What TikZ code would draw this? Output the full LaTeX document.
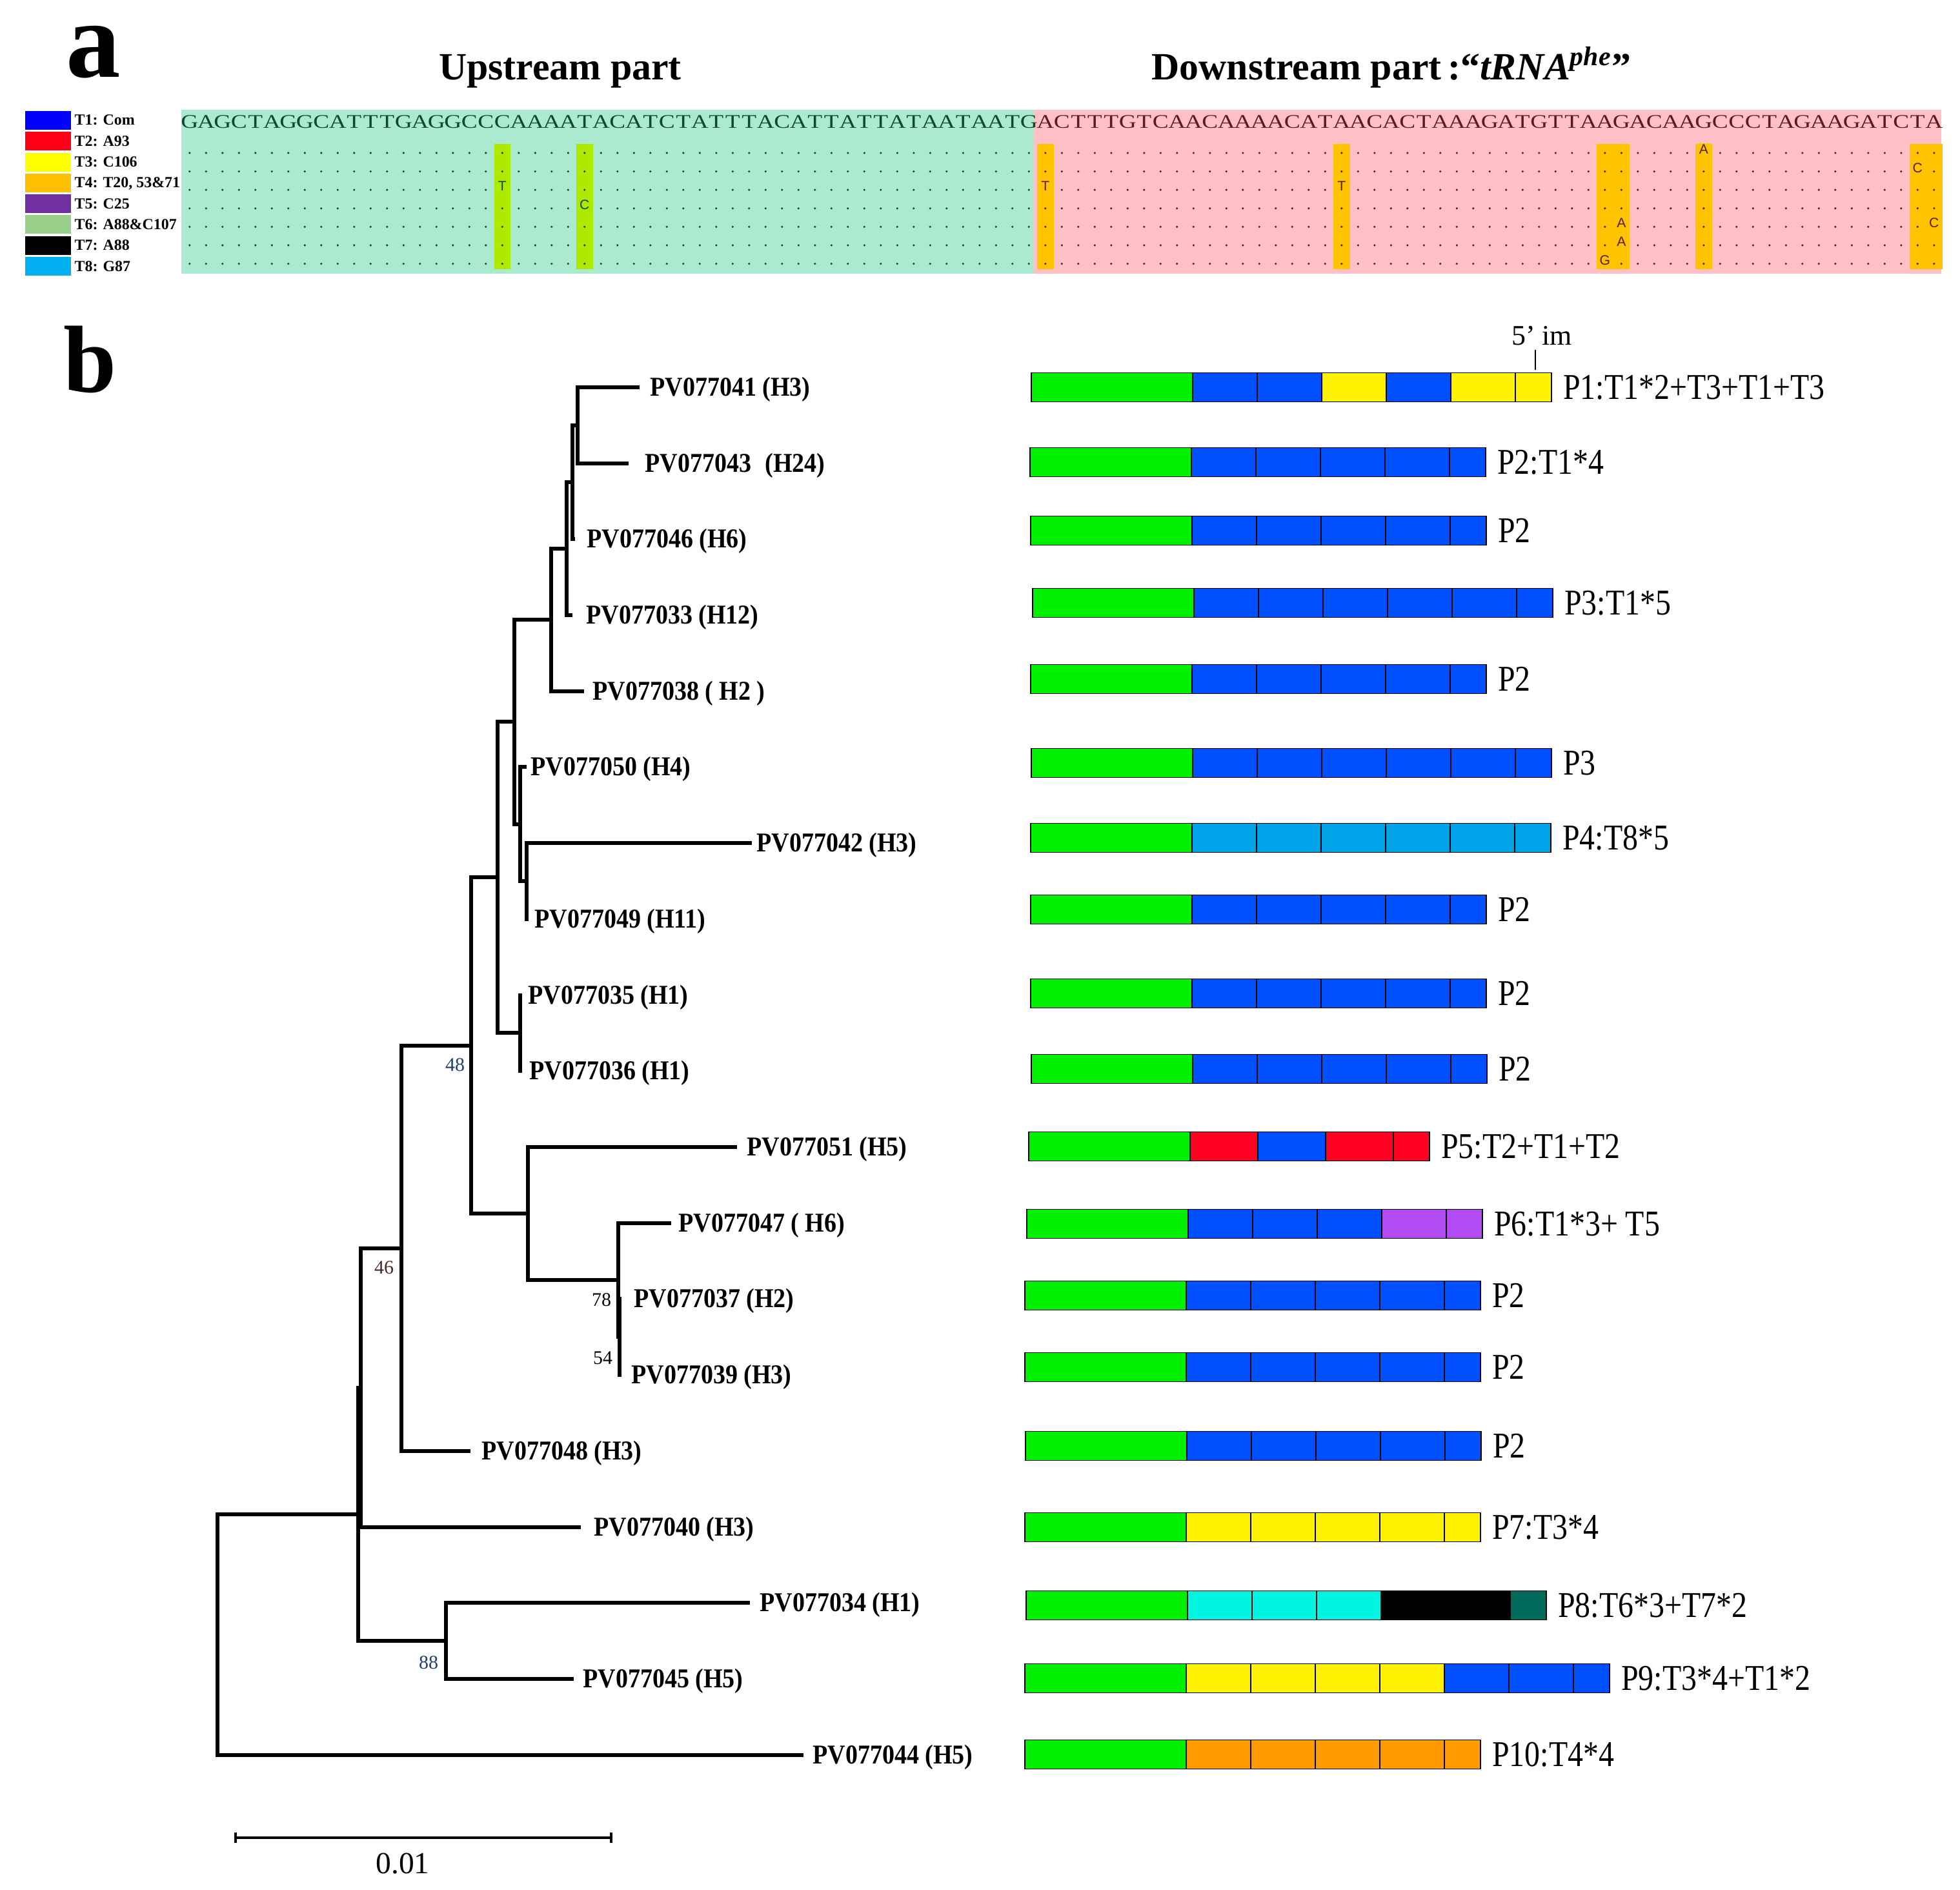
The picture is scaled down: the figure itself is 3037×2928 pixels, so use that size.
\documentclass[tikz,border=0pt]{standalone}
\usepackage{fontspec}
\setmainfont{Liberation Serif}
\newfontfamily\leaffont[FakeStretch=0.9]{Liberation Serif}
\newfontfamily\patfont[FakeStretch=0.85]{Liberation Serif}
\newfontfamily\seqfont[FakeStretch=1.25]{Liberation Serif}
\newfontfamily\varfont{Liberation Sans}
\usepackage{tikz}
\usetikzlibrary{positioning}

% alignment colours
\definecolor{upBack}{HTML}{A9EAD1}
\definecolor{downBack}{HTML}{FFC1C5}
\definecolor{upText}{HTML}{0B4A2C}
\definecolor{downText}{HTML}{5C1C1E}
\definecolor{hlLime}{HTML}{AEEA00}
\definecolor{hlAmber}{HTML}{FFC300}
% legend colours
\definecolor{legT1}{HTML}{0000FF}
\definecolor{legT2}{HTML}{FF0019}
\definecolor{legT3}{HTML}{FFFF00}
\definecolor{legT4}{HTML}{FFC000}
\definecolor{legT5}{HTML}{7030A0}
\definecolor{legT6}{HTML}{98CF8A}
\definecolor{legT7}{HTML}{000000}
\definecolor{legT8}{HTML}{00B0F0}
% bar colours
\definecolor{flank}{HTML}{00F000}
\definecolor{cB}{HTML}{0050FF}
\definecolor{cY}{HTML}{FFF200}
\definecolor{cLB}{HTML}{00A2E8}
\definecolor{cR}{HTML}{FF0022}
\definecolor{cPu}{HTML}{B24BF3}
\definecolor{cCy}{HTML}{00F5E1}
\definecolor{cK}{HTML}{000000}
\definecolor{cTeal}{HTML}{006B5A}
\definecolor{cOr}{HTML}{FF9A00}
\definecolor{bootBlue}{HTML}{1F3F6F}
\definecolor{bootBrown}{HTML}{4A2A2A}

% repeat bar: name, left x, y, cell width, full cells, last (short) cell, label
\newcommand{\hapbar}[7]{%
  \draw[segbox, fill=flank] (#2,{#3-22.5}) rectangle ++(250,45);
  \foreach \cl [count=\k] in {#5} {
    \draw[segbox, fill=\cl] ({#2+250+#4*(\k-1)},{#3-22.5}) rectangle ++(#4,45);
    \xdef\nfull{\k}
  }
  \draw[segbox, fill=#6] ({#2+250+#4*\nfull},{#3-22.5}) rectangle ++(56,45);
  \coordinate (#1end) at ({#2+306+#4*\nfull},#3);
  \node[patlab, right=5pt of #1end] (#1) {#7};
}

\begin{document}
\begin{tikzpicture}[x=0.01cm, y=-0.01cm,
  branch/.style={line width=1.5pt, line join=miter},
  leaflab/.style={font=\leaffont\bfseries\fontsize{12}{14}\selectfont, anchor=west, inner sep=0pt, yshift=-1pt},
  boot/.style={font=\fontsize{8.5}{10}\selectfont, inner sep=0pt},
  patlab/.style={font=\patfont\fontsize{16}{18}\selectfont, inner sep=0pt},
  segbox/.style={draw=black, line width=0.5pt},
  seqU/.style={font=\seqfont\fontsize{8.5}{10}\selectfont, text=upText, anchor=base, inner sep=0pt},
  seqD/.style={seqU, text=downText},
  varL/.style={font=\varfont\fontsize{6}{7}\selectfont, anchor=base, inner sep=0.5pt},
  leglab/.style={font=\bfseries\fontsize{6.8}{8}\selectfont, anchor=base west, inner sep=0pt},
  head/.style={font=\bfseries\fontsize{17}{20}\selectfont, inner sep=0pt}]
\fill[white] (0,0) rectangle (3037,2928);
\useasboundingbox (0,0) rectangle (3037,2928);

% ---------- a ----------
\node[font=\bfseries\fontsize{48}{54}\selectfont, inner sep=0pt, anchor=base] (lblA) at (145,120) {a};
\node[head, anchor=base] (hup) at (868,124) {Upstream part};
\node[head, anchor=base west] (hdown) at (1784,124) {Downstream part\,:“\textit{tRNA}\textsuperscript{\textit{phe}}”};

% legend
\foreach \cl/\ltext [count=\k] in {legT1/{T1: Com}, legT2/{T2: A93}, legT3/{T3: C106}, legT4/{T4: T20, 53\&71}, legT5/{T5: C25}, legT6/{T6: A88\&C107}, legT7/{T7: A88}, legT8/{T8: G87}} {
  \fill[\cl] (39,{172+32.3*(\k-1)}) rectangle (110,{201+32.3*(\k-1)});
  \node[leglab] (leg\k) at (115,{194+32.3*(\k-1)}) {\ltext};
}

% alignment
\fill[upBack] (281,170) rectangle (1602,424);
\fill[downBack] (1602,170) rectangle (3008,424);
\foreach \a/\b in {20/20,25/25}
  \fill[hlLime] ({255.5+25.5*\a},223) rectangle ({281+25.5*\b},417);
\foreach \a/\b in {53/53,71/71,87/88,93/93,106/107}
  \fill[hlAmber] ({255.5+25.5*\a},223) rectangle ({281+25.5*\b},417);
\foreach \s [count=\k] in {G,A,G,C,T,A,G,G,C,A,T,T,T,G,A,G,G,C,C,C,A,A,A,A,T,A,C,A,T,C,T,A,T,T,T,A,C,A,T,T,A,T,T,A,T,A,A,T,A,A,T,G}
  \node[seqU] (su\k) at ({268.25+25.5*\k},199) {\s};
\foreach \s [count=\k from 53] in {A,C,T,T,T,G,T,C,A,A,C,A,A,A,A,C,A,T,A,A,C,A,C,T,A,A,A,G,A,T,G,T,T,A,A,G,A,C,A,A,G,C,C,C,T,A,G,A,A,G,A,T,C,T,A}
  \node[seqD] (sd\k) at ({268.25+25.5*\k},199) {\s};
\foreach \r in {0,...,6} {
  \foreach \k in {1,...,52} \fill[upText] ({268.25+25.5*\k},{237+28.6*\r}) circle (0.5pt);
  \foreach \k in {53,...,107} \fill[downText] ({268.25+25.5*\k},{237+28.6*\r}) circle (0.5pt);
}
\foreach \k/\r/\v [count=\n] in {20/2/T,25/3/C}
  \node[varL, fill=hlLime, text=upText] (vu\n) at ({268.25+25.5*\k},{238.5+28.6*\r}) {\v};
\foreach \k/\r/\v [count=\n] in {53/2/T,71/2/T,87/6/G,88/4/A,88/5/A,93/0/A,106/1/C,107/4/C}
  \node[varL, fill=hlAmber, text=downText] (vd\n) at ({268.25+25.5*\k},{238.5+28.6*\r}) {\v};

% ---------- b ----------
\node[font=\bfseries\fontsize{42}{48}\selectfont, inner sep=0pt] (lblB) at (140,557) {b};

% tips
\coordinate (l1) at (991,600);
\coordinate (l2) at (974,718);
\coordinate (l3) at (891,835);
\coordinate (l4) at (887,953);
\coordinate (l5) at (905,1071);
\coordinate (l6) at (816,1188);
\coordinate (l7) at (1165,1306);
\coordinate (l8) at (819,1424);
\coordinate (l9) at (809,1542);
\coordinate (l10) at (809,1659);
\coordinate (l11) at (1142,1777);
\coordinate (l12) at (1040,1895);
\coordinate (l13) at (963,2012);
\coordinate (l14) at (963,2130);
\coordinate (l15) at (729,2248);
\coordinate (l16) at (900,2366);
\coordinate (l17) at (1162,2483);
\coordinate (l18) at (889,2601);
\coordinate (l19) at (1245,2719);
% inner nodes
\coordinate (n12) at (895,659);
\coordinate (n123) at (887,747);
\coordinate (n1234) at (878,850);
\coordinate (n1to5) at (854,960);
\coordinate (n78) at (816,1365);
\coordinate (n678) at (806,1277);
\coordinate (n1to8) at (797,1118);
\coordinate (n910) at (806,1600);
\coordinate (n1to10) at (771,1359);
\coordinate (n1314) at (960,2071);
\coordinate (n1214) at (958,1983);
\coordinate (n1114) at (818,1880);
\coordinate (n1to14) at (730,1620);
\coordinate (n1to15) at (622,1934);
\coordinate (n1to16) at (559,2150);
\coordinate (n1718) at (691,2542);
\coordinate (n1to18) at (555,2346);
\coordinate (root) at (337,2533);

% branches
\draw[branch] (n12) |- (l1);  \draw[branch] (n12) |- (l2);
\draw[branch] (n123) |- (n12);  \draw[branch] (n123) |- (l3);
\draw[branch] (n1234) |- (n123);  \draw[branch] (n1234) |- (l4);
\draw[branch] (n1to5) |- (n1234);  \draw[branch] (n1to5) |- (l5);
\draw[branch] (n78) |- (l7);  \draw[branch] (n78) |- (l8);
\draw[branch] (n678) |- (l6);  \draw[branch] (n678) |- (n78);
\draw[branch] (n1to8) |- (n1to5);  \draw[branch] (n1to8) |- (n678);
\draw[branch] (n910) |- (l9);  \draw[branch] (n910) |- (l10);
\draw[branch] (n1to10) |- (n1to8);  \draw[branch] (n1to10) |- (n910);
\draw[branch] (n1314) |- (l13);  \draw[branch] (n1314) |- (l14);
\draw[branch] (n1214) |- (l12);  \draw[branch] (n1214) |- (n1314);
\draw[branch] (n1114) |- (l11);  \draw[branch] (n1114) |- (n1214);
\draw[branch] (n1to14) |- (n1to10);  \draw[branch] (n1to14) |- (n1114);
\draw[branch] (n1to15) |- (n1to14);  \draw[branch] (n1to15) |- (l15);
\draw[branch] (n1to16) |- (n1to15);  \draw[branch] (n1to16) |- (l16);
\draw[branch] (n1718) |- (l17);  \draw[branch] (n1718) |- (l18);
\draw[branch] (n1to18) |- (n1to16);  \draw[branch] (n1to18) |- (n1718);
\draw[branch] (root) |- (n1to18);  \draw[branch] (root) |- (l19);

% leaf labels
\node[leaflab] (t1) at (1007,600) {PV077041 (H3)};
\node[leaflab] (t2) at (999,718) {PV077043\enspace(H24)};
\node[leaflab] (t3) at (909,835) {PV077046 (H6)};
\node[leaflab] (t4) at (908,953) {PV077033 (H12)};
\node[leaflab] (t5) at (918,1071) {PV077038 ( H2 )};
\node[leaflab] (t6) at (822,1188) {PV077050 (H4)};
\node[leaflab] (t7) at (1172,1306) {PV077042 (H3)};
\node[leaflab] (t8) at (828,1424) {PV077049 (H11)};
\node[leaflab] (t9) at (818,1542) {PV077035 (H1)};
\node[leaflab] (t10) at (820,1659) {PV077036 (H1)};
\node[leaflab] (t11) at (1157,1777) {PV077051 (H5)};
\node[leaflab] (t12) at (1051,1895) {PV077047 ( H6)};
\node[leaflab] (t13) at (982,2012) {PV077037 (H2)};
\node[leaflab] (t14) at (978,2130) {PV077039 (H3)};
\node[leaflab] (t15) at (746,2248) {PV077048 (H3)};
\node[leaflab] (t16) at (920,2366) {PV077040 (H3)};
\node[leaflab] (t17) at (1177,2483) {PV077034 (H1)};
\node[leaflab] (t18) at (903,2601) {PV077045 (H5)};
\node[leaflab] (t19) at (1259,2719) {PV077044 (H5)};

% bootstrap values
\node[boot, text=bootBlue] (bs48) at (705,1650) {48};
\node[boot, text=bootBrown] (bs46) at (595,1964) {46};
\node[boot] (bs78) at (932,2014) {78};
\node[boot] (bs54) at (934,2104) {54};
\node[boot, text=bootBlue] (bs88) at (664,2576) {88};

% scale bar
\coordinate (sbL) at (365,2847);
\coordinate (sbR) at (947,2847);
\draw[line width=1pt] (sbL) -- (sbR);
\draw[line width=1pt] ([yshift=2.2pt]sbL) -- ([yshift=-2.2pt]sbL);
\draw[line width=1pt] ([yshift=2.2pt]sbR) -- ([yshift=-2.2pt]sbR);
\node[font=\fontsize{13.5}{16}\selectfont, inner sep=0pt] (sblab) at (624,2887) {0.01};

% repeat bars
\hapbar{r1}{1598}{600}{100}{cB,cB,cY,cB,cY}{cY}{P1:T1*2+T3+T1+T3}
\hapbar{r2}{1596}{716}{100}{cB,cB,cB,cB}{cB}{P2:T1*4}
\hapbar{r3}{1597}{822}{100}{cB,cB,cB,cB}{cB}{P2}
\hapbar{r4}{1600}{934}{100}{cB,cB,cB,cB,cB}{cB}{P3:T1*5}
\hapbar{r5}{1597}{1052}{100}{cB,cB,cB,cB}{cB}{P2}
\hapbar{r6}{1598}{1182}{100}{cB,cB,cB,cB,cB}{cB}{P3}
\hapbar{r7}{1597}{1298}{100}{cLB,cLB,cLB,cLB,cLB}{cLB}{P4:T8*5}
\hapbar{r8}{1597}{1409}{100}{cB,cB,cB,cB}{cB}{P2}
\hapbar{r9}{1597}{1539}{100}{cB,cB,cB,cB}{cB}{P2}
\hapbar{r10}{1598}{1656}{100}{cB,cB,cB,cB}{cB}{P2}
\hapbar{r11}{1594}{1776}{105}{cR,cB,cR}{cR}{P5:T2+T1+T2}
\hapbar{r12}{1591}{1896}{100}{cB,cB,cB,cPu}{cPu}{P6:T1*3+ T5}
\hapbar{r13}{1588}{2007}{100}{cB,cB,cB,cB}{cB}{P2}
\hapbar{r14}{1588}{2118}{100}{cB,cB,cB,cB}{cB}{P2}
\hapbar{r15}{1589}{2240}{100}{cB,cB,cB,cB}{cB}{P2}
\hapbar{r16}{1588}{2366}{100}{cY,cY,cY,cY}{cY}{P7:T3*4}
\hapbar{r17}{1590}{2487}{100}{cCy,cCy,cCy,cK,cK}{cTeal}{P8:T6*3+T7*2}
\hapbar{r18}{1588}{2600}{100}{cY,cY,cY,cY,cB,cB}{cB}{P9:T3*4+T1*2}
\hapbar{r19}{1588}{2718}{100}{cOr,cOr,cOr,cOr}{cOr}{P10:T4*4}

% 5' im mark
\node[font=\fontsize{12.5}{15}\selectfont, inner sep=0pt] (imlab) at (2389,520) {5’ im};
\coordinate (imtop) at (2379,542);
\coordinate (imfoot) at (2379,573);
\draw[line width=0.8pt] (imtop) -- (imfoot);
\end{tikzpicture}
\end{document}
